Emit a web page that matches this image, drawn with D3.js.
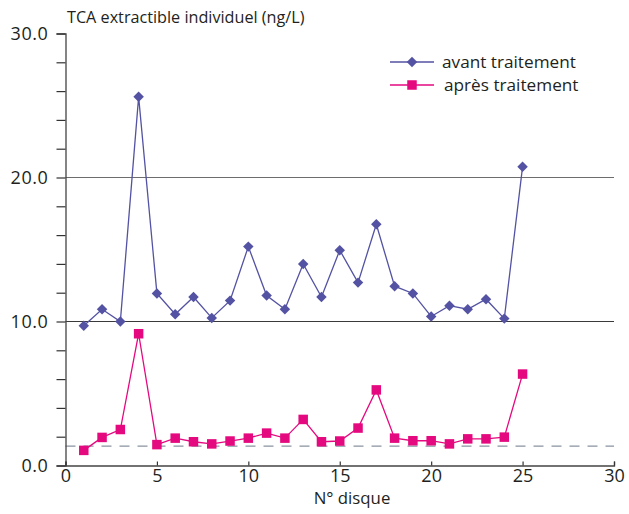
<!DOCTYPE html>
<html><head><meta charset="utf-8">
<script src="https://cdn.jsdelivr.net/npm/d3@7"></script>
<style>body{margin:0;background:#fff;} text{font-family:"Open Sans","Noto Sans",sans-serif;fill:#231f20;}</style>
</head><body>
<svg id="c" width="629" height="514"></svg>
<script>
const disques = d3.range(1, 26);
const avant = [9.7,10.85,10.0,25.6,11.95,10.5,11.7,10.25,11.45,15.2,11.8,10.85,14.0,11.7,14.95,12.7,16.75,12.45,11.95,10.35,11.1,10.85,11.55,10.2,20.75];
const apres = [1.05,1.95,2.5,9.15,1.45,1.9,1.65,1.5,1.7,1.9,2.25,1.9,3.2,1.65,1.7,2.6,5.25,1.9,1.72,1.72,1.5,1.85,1.85,1.97,6.35];
const seuil = 1.35;
const yMajor = [0, 10, 20, 30];
const xTicks = [0, 5, 10, 15, 20, 25, 30];
const yTitle = "TCA extractible individuel (ng/L)";
const xTitle = "N° disque";
const seriesNames = ["avant traitement", "après traitement"];

const svg = d3.select("#c");
const x = d3.scaleLinear().domain([0, 30]).range([65.5, 614]);
const y = d3.scaleLinear().domain([0, 30]).range([465.5, 33.5]);
const blue = "#5352a3", pink = "#e5097f";

// gridlines at 10, 20
svg.append("g").selectAll("line").data([10, 20]).join("line")
  .attr("x1", x(0)).attr("x2", x(30)).attr("y1", d => y(d)).attr("y2", d => y(d))
  .attr("stroke", (d) => d === 20 ? "#6d6d6d" : "#3a3a3a").attr("stroke-width", 1.2);

// dashed threshold
svg.append("line").attr("x1", x(0)).attr("x2", x(30)).attr("y1", y(seuil)).attr("y2", y(seuil))
  .attr("stroke", "#8a93a0").attr("stroke-width", 1.2).attr("stroke-dasharray", "10,8");

// y axis
const yAxis = d3.axisLeft(y).tickValues(d3.range(0, 31, 2)).tickSize(9)
  .tickFormat(d => yMajor.includes(d) ? d3.format(".1f")(d) : "");
svg.append("g").attr("transform", `translate(${x(0)},0)`).call(yAxis)
  .call(g => g.select(".domain").attr("stroke", "#444").attr("stroke-width", 1.3))
  .call(g => g.selectAll(".tick line").attr("stroke", "#333").attr("stroke-width", 1.2))
  .call(g => g.selectAll(".tick text").attr("font-size", 18).attr("letter-spacing", 0.6).attr("x", -17).attr("fill", "#231f20"));

// x axis
const xAxis = d3.axisBottom(x).tickValues(xTicks).tickSize(-4).tickPadding(0);
svg.append("g").attr("transform", `translate(0,${y(0)})`).call(xAxis)
  .call(g => g.select(".domain").attr("stroke", "#444").attr("stroke-width", 1.3))
  .call(g => g.selectAll(".tick text").attr("font-size", 18).attr("y", 16).attr("dy", 0).attr("fill", "#231f20"))
  .call(g => g.selectAll(".tick line").attr("stroke", "#333").attr("stroke-width", 1.2));

// titles
svg.append("text").attr("x", 67).attr("y", 23).attr("font-size", 16.2).text(yTitle);
svg.append("text").attr("x", 352).attr("y", 504).attr("text-anchor", "middle").attr("font-size", 16.8).text(xTitle);

const line = d3.line().x((d, i) => x(disques[i])).y(d => y(d));
svg.append("path").datum(avant).attr("d", line).attr("fill", "none").attr("stroke", blue).attr("stroke-width", 1.3);
svg.append("path").datum(apres).attr("d", line).attr("fill", "none").attr("stroke", pink).attr("stroke-width", 1.3);

const diamond = d3.symbol().type(d3.symbolSquare).size(55);
svg.append("g").selectAll("path").data(avant).join("path")
  .attr("d", diamond).attr("fill", blue)
  .attr("transform", (d, i) => `translate(${x(disques[i])},${y(d)}) rotate(45)`);
svg.append("g").selectAll("rect").data(apres).join("rect")
  .attr("x", (d, i) => x(disques[i]) - 4.75).attr("y", d => y(d) - 4.75)
  .attr("width", 9.5).attr("height", 9.5).attr("fill", pink);

// legend
const lg = svg.append("g");
[[blue, 62, "d"], [pink, 85, "s"]].forEach(([c, ly, t], k) => {
  lg.append("line").attr("x1", 390).attr("x2", 434).attr("y1", ly).attr("y2", ly).attr("stroke", c).attr("stroke-width", 1.3);
  if (t === "d") lg.append("path").attr("d", diamond).attr("fill", c).attr("transform", `translate(412,${ly}) rotate(45)`);
  else lg.append("rect").attr("x", 407.25).attr("y", ly - 4.75).attr("width", 9.5).attr("height", 9.5).attr("fill", c);
  lg.append("text").attr("x", k === 0 ? 442 : 444).attr("y", ly + 6).attr("font-size", 17.2).text(seriesNames[k]);
});
</script>
</body></html>
